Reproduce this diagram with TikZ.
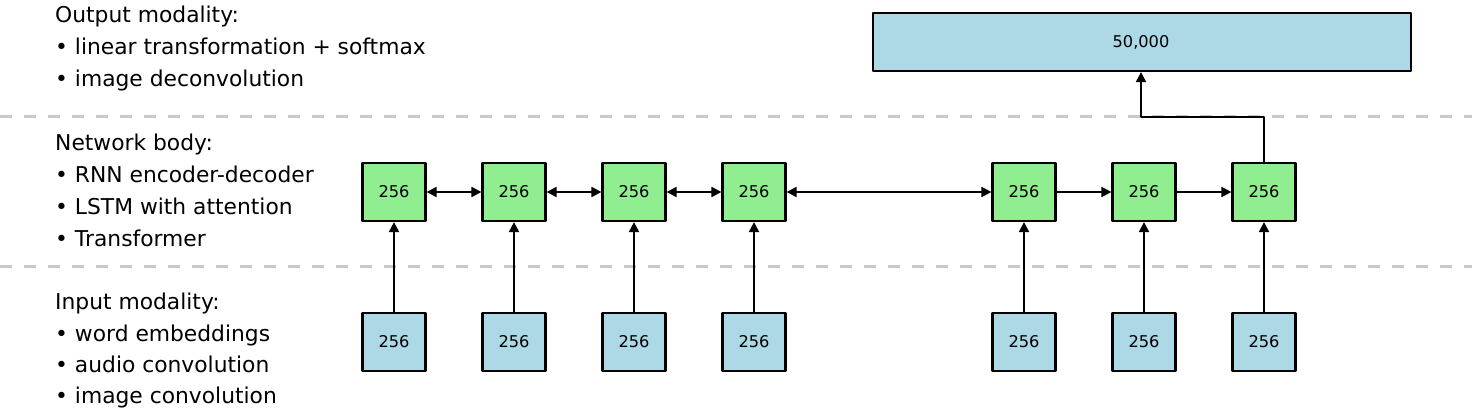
\documentclass[tikz,border=0pt]{standalone}
\usepackage{fontspec}
\setmainfont{DejaVu Sans}
\usetikzlibrary{arrows.meta,positioning}
\definecolor{hidgreen}{HTML}{90EE90}
\definecolor{inblue}{HTML}{ADD8E6}
\definecolor{sepgray}{HTML}{C8C8C8}

\begin{document}
\begin{tikzpicture}[x=1pt, y=-1pt, line join=round, >={Triangle[length=10pt,width=10pt]}]
			\tikzset{
				lbl/.style={anchor=base west, inner sep=0pt, font=\fontsize{21.8}{26}\selectfont},
				cell/.style={draw, line width=2.2pt, minimum width=63pt, minimum height=58pt, inner sep=0pt, font=\fontsize{16.2}{19}\selectfont},
				hid/.style={cell, fill=hidgreen},
				inp/.style={cell, fill=inblue},
				sep/.style={draw=sepgray, line width=3pt, dash pattern=on 12pt off 12pt},
				conn/.style={line width=2pt}
			}
			\useasboundingbox (0,0) rectangle (1472,411);
			% section separators
			\draw[sep] (0,117) -- (1472,117);
			\draw[sep] (0,267) -- (1472,267);
			% left-hand captions
			\foreach \t [count=\i from 0] in {Output modality:, • linear transformation + softmax, • image deconvolution}
				\node[lbl] (outcap\i) at (55,23+31.7*\i) {\t};
			\foreach \t [count=\i from 0] in {Network body:, • RNN encoder-decoder, • LSTM with attention, • Transformer}
				\node[lbl] (bodycap\i) at (55,151+31.7*\i) {\t};
			\foreach \t [count=\i from 0] in {Input modality:, • word embeddings, • audio convolution, • image convolution}
				\node[lbl] (incap\i) at (55,310+31.3*\i) {\t};
			% columns
			\foreach \x [count=\i] in {394,514,634,754,1024,1144,1264}{
				\node[hid] (h\i) at (\x,192) {256};
				\node[inp] (e\i) at (\x,342) {256};
				\draw[conn,->] (e\i) -- (h\i);
			}
			\foreach \a/\b in {1/2,2/3,3/4,4/5}
				\draw[conn,<->] (h\a) -- (h\b);
			\draw[conn,->] (h5) -- (h6);
			\draw[conn,->] (h6) -- (h7);
			% output layer
			\node[inp, minimum width=538pt] (out) at (1142,42) {};
			\coordinate (turn) at (1141,117);
			\node[font=\fontsize{16.2}{19}\selectfont] (outlbl) at (turn |- out.center) {50,000};
			\draw[conn,->] (h7.north) |- (turn) -- (turn |- out.south);
		\end{tikzpicture}
\end{document}
